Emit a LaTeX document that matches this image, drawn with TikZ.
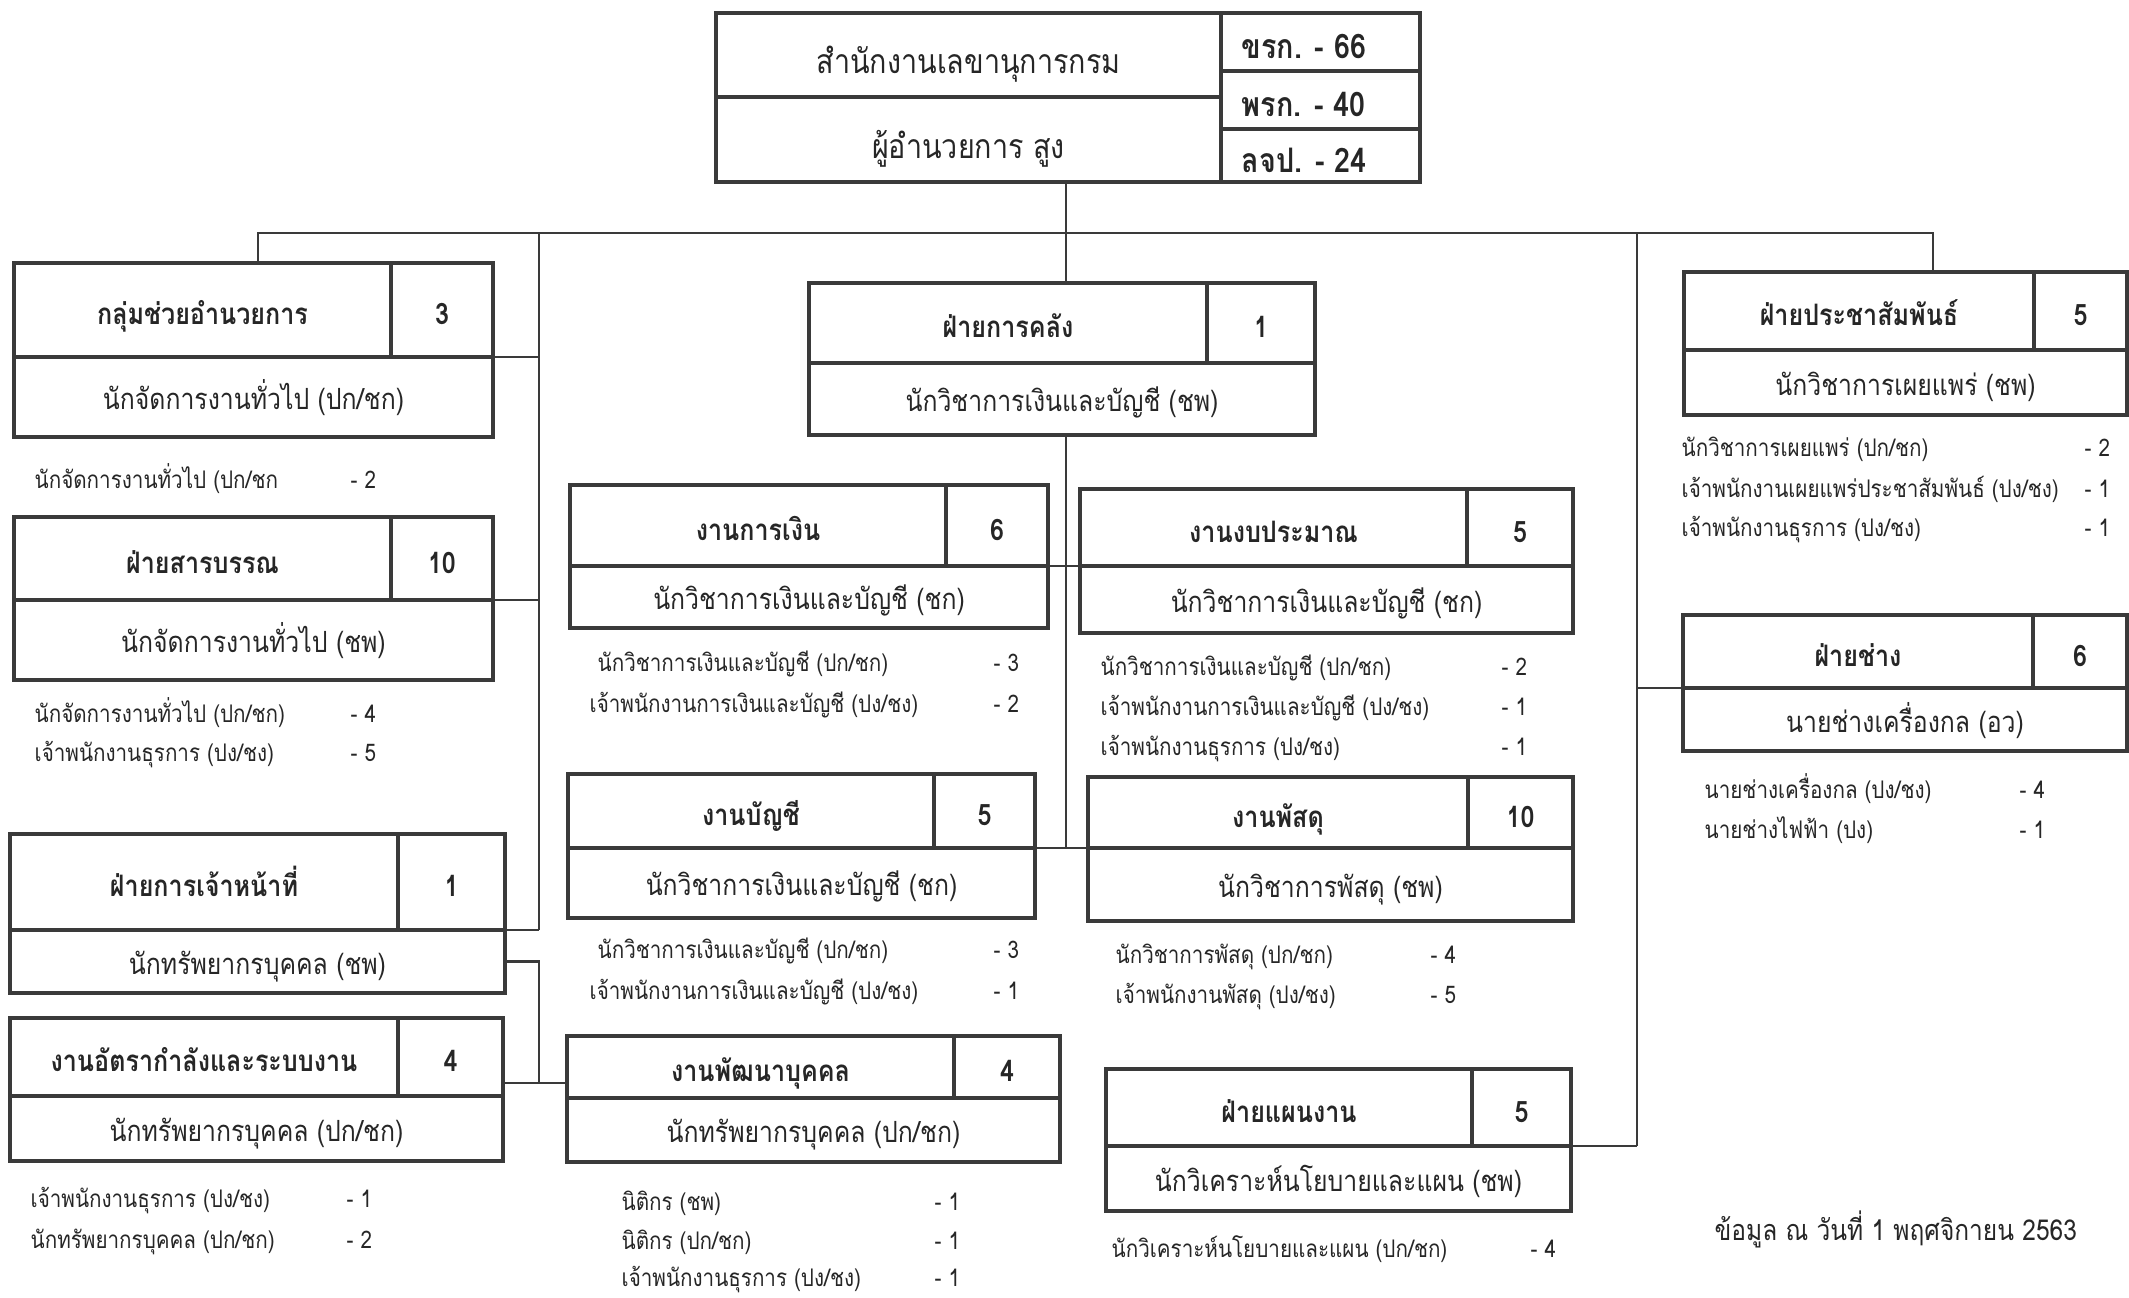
\documentclass[tikz,border=0pt]{standalone}
\usepackage{fontspec}
\setmainfont{Loma}[Script=Thai, FakeStretch=0.85]
\usetikzlibrary{fit, calc}

\definecolor{borderColour}{HTML}{3A3A3A}
\definecolor{textColour}{HTML}{262626}

\tikzset{
    cellBox/.style={draw=borderColour, line width=1.1pt, inner sep=0pt, outer sep=0pt},
    cellText/.style={inner sep=0pt, text=textColour, text height=0.55em, text depth=0.05em},
    headText/.style={cellText, yshift=-0.06cm, font=\fontsize{8.4}{10}\selectfont\bfseries},
    bodyText/.style={cellText, yshift=-0.04cm, font=\fontsize{8.3}{10}\selectfont},
    topText/.style={cellText, yshift=-0.1cm, font=\fontsize{9.6}{11}\selectfont},
    staffText/.style={cellText, anchor=west, font=\fontsize{6.9}{8}\selectfont},
    link/.style={draw=borderColour, line width=0.8pt},
}

% header cell and number cell of one unit
\newcommand{\unitBox}[8]{%
    \node[cellBox, fit={(#2,#3) (#4,#5)}] (#1-head) {};
    \node[headText] (#1-title) at (#1-head.center) {#7};
    \node[cellBox, fit={(#4,#3) (#6,#5)}] (#1-num) {};
    \node[headText] (#1-count) at (#1-num.center) {#8};
}
% the post below a unit
\newcommand{\unitPost}[3]{%
    \node[cellBox, fit={(#1-head.south west) ($(#1-num.south east |- 0,#2)$)}] (#1-body) {};
    \node[bodyText] (#1-post) at (#1-body.center) {#3};
}
% one line of the staff list
\newcommand{\staffLine}[6]{%
    \node[staffText] (#1) at (#2,#3) {#4};
    \node[staffText] (#1-n) at (#5,#3) {#6};
}

\begin{document}
\begin{tikzpicture}[x=0.01cm, y=-0.01cm]

    \useasboundingbox (0,0) rectangle (2129,1298);

    % Junctions of the connectors
    \coordinate (hub) at (1066,233);
    \coordinate (busL) at (258,233);
    \coordinate (busR) at (1933,233);
    \coordinate (spineL) at (539,233);
    \coordinate (spineR) at (1637,233);
    \coordinate (hrJoin) at (539,1083);

    % Office box
    \node[cellBox, fit={(716,13) (1221,97)}] (office) {};
    \node[topText] (office-title) at (office.center) {สำนักงานเลขานุการกรม};
    \node[cellBox, fit={(716,97) (1221,182)}] (director) {};
    \node[topText] (director-title) at (director.center) {ผู้อำนวยการ สูง};
    \foreach \n/\ya/\yb/\t in {countA/13/71/{ขรก. - 66}, countB/71/129/{พรก. - 40}, countC/129/182/{ลจป. - 24}}
    {
        \node[cellBox, fit={(1221,\ya) (1420,\yb)}] (\n) {};
        \node[cellText, anchor=west, font=\fontsize{9.6}{11}\selectfont\bfseries]
            (\n-text) at ([xshift=0.2cm, yshift=-0.08cm]\n.west) {\t};
    }

    % Units on the left
    \unitBox{assist}{14}{263}{391}{357}{493}{กลุ่มช่วยอำนวยการ}{3}
    \unitPost{assist}{437}{นักจัดการงานทั่วไป (ปก/ชก)}
    \unitBox{saraban}{14}{517}{391}{600}{493}{ฝ่ายสารบรรณ}{10}
    \unitPost{saraban}{680}{นักจัดการงานทั่วไป (ชพ)}
    \unitBox{personnel}{10}{834}{398}{930}{505}{ฝ่ายการเจ้าหน้าที่}{1}
    \unitPost{personnel}{993}{นักทรัพยากรบุคคล (ชพ)}
    \unitBox{rate}{10}{1018}{398}{1096}{503}{งานอัตรากำลังและระบบงาน}{4}
    \unitPost{rate}{1161}{นักทรัพยากรบุคคล (ปก/ชก)}

    % Units in the middle
    \unitBox{treasury}{809}{283}{1207}{363}{1315}{ฝ่ายการคลัง}{1}
    \unitPost{treasury}{435}{นักวิชาการเงินและบัญชี (ชพ)}
    \unitBox{finance}{570}{485}{946}{566}{1048}{งานการเงิน}{6}
    \unitPost{finance}{628}{นักวิชาการเงินและบัญชี (ชก)}
    \unitBox{budget}{1080}{489}{1467}{566}{1573}{งานงบประมาณ}{5}
    \unitPost{budget}{633}{นักวิชาการเงินและบัญชี (ชก)}
    \unitBox{account}{568}{774}{934}{848}{1035}{งานบัญชี}{5}
    \unitPost{account}{918}{นักวิชาการเงินและบัญชี (ชก)}
    \unitBox{supply}{1088}{777}{1468}{848}{1573}{งานพัสดุ}{10}
    \unitPost{supply}{921}{นักวิชาการพัสดุ (ชพ)}
    \unitBox{develop}{567}{1036}{954}{1098}{1060}{งานพัฒนาบุคคล}{4}
    \unitPost{develop}{1162}{นักทรัพยากรบุคคล (ปก/ชก)}
    \unitBox{plan}{1106}{1069}{1472}{1146}{1571}{ฝ่ายแผนงาน}{5}
    \unitPost{plan}{1211}{นักวิเคราะห์นโยบายและแผน (ชพ)}

    % Units on the right
    \unitBox{pr}{1684}{272}{2034}{350}{2127}{ฝ่ายประชาสัมพันธ์}{5}
    \unitPost{pr}{415}{นักวิชาการเผยแพร่ (ชพ)}
    \unitBox{tech}{1683}{615}{2033}{688}{2127}{ฝ่ายช่าง}{6}
    \unitPost{tech}{751}{นายช่างเครื่องกล (อว)}

    % Staff lists
    \staffLine{assistA}{34}{480}{นักจัดการงานทั่วไป (ปก/ชก}{350}{- 2}
    \staffLine{sarabanA}{34}{714}{นักจัดการงานทั่วไป (ปก/ชก)}{350}{- 4}
    \staffLine{sarabanB}{34}{753}{เจ้าพนักงานธุรการ (ปง/ชง)}{350}{- 5}
    \staffLine{rateA}{30}{1199}{เจ้าพนักงานธุรการ (ปง/ชง)}{346}{- 1}
    \staffLine{rateB}{30}{1240}{นักทรัพยากรบุคคล (ปก/ชก)}{346}{- 2}
    \staffLine{financeA}{597}{663}{นักวิชาการเงินและบัญชี (ปก/ชก)}{993}{- 3}
    \staffLine{financeB}{589}{704}{เจ้าพนักงานการเงินและบัญชี (ปง/ชง)}{993}{- 2}
    \staffLine{budgetA}{1100}{667}{นักวิชาการเงินและบัญชี (ปก/ชก)}{1501}{- 2}
    \staffLine{budgetB}{1100}{707}{เจ้าพนักงานการเงินและบัญชี (ปง/ชง)}{1501}{- 1}
    \staffLine{budgetC}{1100}{747}{เจ้าพนักงานธุรการ (ปง/ชง)}{1501}{- 1}
    \staffLine{accountA}{597}{950}{นักวิชาการเงินและบัญชี (ปก/ชก)}{993}{- 3}
    \staffLine{accountB}{589}{991}{เจ้าพนักงานการเงินและบัญชี (ปง/ชง)}{993}{- 1}
    \staffLine{supplyA}{1115}{955}{นักวิชาการพัสดุ (ปก/ชก)}{1430}{- 4}
    \staffLine{supplyB}{1115}{995}{เจ้าพนักงานพัสดุ (ปง/ชง)}{1430}{- 5}
    \staffLine{developA}{621}{1202}{นิติกร (ชพ)}{934}{- 1}
    \staffLine{developB}{621}{1241}{นิติกร (ปก/ชก)}{934}{- 1}
    \staffLine{developC}{621}{1278}{เจ้าพนักงานธุรการ (ปง/ชง)}{934}{- 1}
    \staffLine{planA}{1111}{1249}{นักวิเคราะห์นโยบายและแผน (ปก/ชก)}{1530}{- 4}
    \staffLine{prA}{1681}{448}{นักวิชาการเผยแพร่ (ปก/ชก)}{2084}{- 2}
    \staffLine{prB}{1681}{489}{เจ้าพนักงานเผยแพร่ประชาสัมพันธ์ (ปง/ชง)}{2084}{- 1}
    \staffLine{prC}{1681}{528}{เจ้าพนักงานธุรการ (ปง/ชง)}{2084}{- 1}
    \staffLine{techA}{1704}{790}{นายช่างเครื่องกล (ปง/ชง)}{2019}{- 4}
    \staffLine{techB}{1704}{830}{นายช่างไฟฟ้า (ปง)}{2019}{- 1}

    % Date of the data
    \node[staffText, font=\fontsize{8.2}{10}\selectfont] (dataDate) at (1714,1232) {ข้อมูล ณ วันที่ 1 พฤศจิกายน 2563};

    % Connectors from the office
    \draw[link] (director.south -| hub) -- (treasury-head.north -| hub);
    \draw[link] (assist-head.north -| busL) -- (busL) -- (busR) -- (pr-head.north -| busR);

    % Left spine
    \draw[link] (spineL) -- (personnel-num.south east -| spineL);
    \foreach \u in {assist, saraban, personnel}
        \draw[link] (\u-num.south east) -- (\u-num.south east -| spineL);
    \draw[link] (personnel-body.east) -| (hrJoin);
    \draw[link] (rate-num.east |- hrJoin) -- (develop-head.west |- hrJoin);

    % Middle spine
    \draw[link] (treasury-body.south -| hub) -- (account-num.south east -| hub);
    \draw[link] (finance-num.south east) -- (budget-head.south west);
    \draw[link] (account-num.south east) -- (supply-head.south west);

    % Right spine
    \draw[link] (spineR) -- (plan-num.south east -| spineR);
    \draw[link] (tech-head.south west) -- (tech-head.south west -| spineR);
    \draw[link] (plan-num.south east) -- (plan-num.south east -| spineR);

\end{tikzpicture}
\end{document}
